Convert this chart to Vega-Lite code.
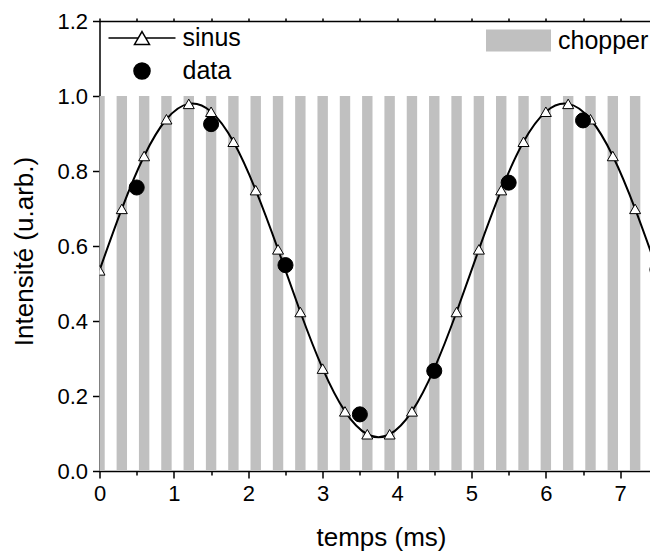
{
  "$schema": "https://vega.github.io/schema/vega-lite/v6.json",
  "width": 550.5,
  "height": 450,
  "autosize": {"type": "none"},
  "padding": {"left": 99.5, "top": 21, "right": 0, "bottom": 82},
  "config": {
    "font": "Liberation Sans",
    "view": {"stroke": null},
    "axis": {
      "grid": false,
      "domainColor": "black",
      "tickColor": "black",
      "labelColor": "black",
      "titleColor": "black",
      "domainWidth": 1.5,
      "tickWidth": 1.5,
      "labelFont": "Liberation Sans",
      "titleFont": "Liberation Sans",
      "titleFontWeight": "normal",
      "labelFlush": false,
      "labelOverlap": false
    },
    "legend": {"labelFont": "Liberation Sans", "labelColor": "black"}
  },
  "datasets": {
    "chopper": [
      {"t0": -0.07, "t1": 0.07}, {"t0": 0.23, "t1": 0.37}, {"t0": 0.53, "t1": 0.67},
      {"t0": 0.83, "t1": 0.97}, {"t0": 1.13, "t1": 1.27}, {"t0": 1.43, "t1": 1.57},
      {"t0": 1.73, "t1": 1.87}, {"t0": 2.03, "t1": 2.17}, {"t0": 2.33, "t1": 2.47},
      {"t0": 2.63, "t1": 2.77}, {"t0": 2.93, "t1": 3.07}, {"t0": 3.23, "t1": 3.37},
      {"t0": 3.53, "t1": 3.67}, {"t0": 3.83, "t1": 3.97}, {"t0": 4.13, "t1": 4.27},
      {"t0": 4.43, "t1": 4.57}, {"t0": 4.73, "t1": 4.87}, {"t0": 5.03, "t1": 5.17},
      {"t0": 5.33, "t1": 5.47}, {"t0": 5.63, "t1": 5.77}, {"t0": 5.93, "t1": 6.07},
      {"t0": 6.23, "t1": 6.37}, {"t0": 6.53, "t1": 6.67}, {"t0": 6.83, "t1": 6.97},
      {"t0": 7.13, "t1": 7.27}
    ],
    "pts": [
      {"series": "sinus", "x": 0.0, "y": 0.535},
      {"series": "sinus", "x": 0.3, "y": 0.699},
      {"series": "sinus", "x": 0.6, "y": 0.840},
      {"series": "sinus", "x": 0.9, "y": 0.938},
      {"series": "sinus", "x": 1.2, "y": 0.979},
      {"series": "sinus", "x": 1.5, "y": 0.958},
      {"series": "sinus", "x": 1.8, "y": 0.878},
      {"series": "sinus", "x": 2.1, "y": 0.749},
      {"series": "sinus", "x": 2.4, "y": 0.591},
      {"series": "sinus", "x": 2.7, "y": 0.424},
      {"series": "sinus", "x": 3.0, "y": 0.273},
      {"series": "sinus", "x": 3.3, "y": 0.159},
      {"series": "sinus", "x": 3.6, "y": 0.098},
      {"series": "sinus", "x": 3.9, "y": 0.098},
      {"series": "sinus", "x": 4.2, "y": 0.159},
      {"series": "sinus", "x": 4.5, "y": 0.273},
      {"series": "sinus", "x": 4.8, "y": 0.424},
      {"series": "sinus", "x": 5.1, "y": 0.591},
      {"series": "sinus", "x": 5.4, "y": 0.749},
      {"series": "sinus", "x": 5.7, "y": 0.878},
      {"series": "sinus", "x": 6.0, "y": 0.958},
      {"series": "sinus", "x": 6.3, "y": 0.979},
      {"series": "sinus", "x": 6.6, "y": 0.938},
      {"series": "sinus", "x": 6.9, "y": 0.840},
      {"series": "sinus", "x": 7.2, "y": 0.699},
      {"series": "sinus", "x": 7.5, "y": 0.535},
      {"series": "data", "x": 0.5, "y": 0.756},
      {"series": "data", "x": 1.5, "y": 0.925},
      {"series": "data", "x": 2.5, "y": 0.549},
      {"series": "data", "x": 3.5, "y": 0.151},
      {"series": "data", "x": 4.5, "y": 0.267},
      {"series": "data", "x": 5.5, "y": 0.769},
      {"series": "data", "x": 6.5, "y": 0.935},
      {"series": "data", "x": 7.5, "y": 0.537}
    ]
  },
  "layer": [
    {
      "data": {"name": "chopper"},
      "mark": {"type": "rect", "clip": true},
      "encoding": {
        "x": {
          "field": "t0", "type": "quantitative",
          "scale": {"domain": [0, 7.4], "nice": false, "zero": false},
          "axis": {
            "orient": "bottom",
            "title": "temps (ms)",
            "values": [0, 0.5, 1, 1.5, 2, 2.5, 3, 3.5, 4, 4.5, 5, 5.5, 6, 6.5, 7],
            "labelExpr": "datum.value % 1 === 0 ? format(datum.value, 'd') : ''",
            "tickSize": {"condition": {"test": "datum.value % 1 === 0", "value": 7}, "value": 4},
            "labelFontSize": 22,
            "labelPadding": 5,
            "titleFontSize": 26,
            "titleX": 281.5,
            "titleY": 74,
            "titleBaseline": "alphabetic"
          }
        },
        "x2": {"field": "t1"},
        "y": {
          "datum": 0, "type": "quantitative",
          "scale": {"domain": [0, 1.2], "nice": false, "zero": false},
          "axis": {
            "title": "Intensité (u.arb.)",
            "values": [0, 0.1, 0.2, 0.3, 0.4, 0.5, 0.6, 0.7, 0.8, 0.9, 1.0, 1.1, 1.2],
            "labelExpr": "round(datum.value * 10) % 2 === 0 ? format(datum.value, '.1f') : ''",
            "tickSize": {"condition": {"test": "round(datum.value * 10) % 2 === 0", "value": 7}, "value": 4},
            "labelFontSize": 22,
            "labelPadding": 5,
            "titleFontSize": 26,
            "titleX": -67,
            "titleY": 230,
            "titleAngle": 270,
            "titleAlign": "center",
            "titleBaseline": "alphabetic"
          }
        },
        "y2": {"datum": 1},
        "color": {
          "datum": "chopper", "type": "nominal",
          "scale": {"domain": ["chopper"], "range": ["#c0c0c0"]},
          "legend": {
            "title": null,
            "orient": "none",
            "legendX": 386.5,
            "legendY": -13,
            "padding": 0,
            "symbolType": "M-1,-0.338H1V0.338H-1Z",
            "symbolSize": 4225,
            "symbolStrokeWidth": 0,
            "symbolOpacity": 1,
            "labelFontSize": 25,
            "labelOffset": 7,
            "encode": {"symbols": {"update": {"shape": {"value": "M-1,-0.338H1V0.338H-1Z"}, "fill": {"value": "#c0c0c0"}, "opacity": {"value": 1}}}}
          }
        }
      }
    },
    {
      "data": {"name": "pts"},
      "transform": [{"filter": "datum.series === 'sinus'"}],
      "mark": {"type": "line", "interpolate": "natural", "color": "black", "strokeWidth": 2, "clip": true},
      "encoding": {
        "x": {
          "field": "x", "type": "quantitative",
          "axis": {
            "orient": "top",
            "title": null,
            "labels": false,
            "values": [0, 0.5, 1, 1.5, 2, 2.5, 3, 3.5, 4, 4.5, 5, 5.5, 6, 6.5, 7],
            "tickSize": 3
          }
        },
        "y": {"field": "y", "type": "quantitative"}
      }
    },
    {
      "data": {"name": "pts"},
      "transform": [{"filter": "datum.series === 'sinus'"}],
      "mark": {"type": "point", "shape": "triangle-up", "filled": true, "fill": "white", "stroke": "black", "strokeWidth": 1, "opacity": 1, "size": 121, "clip": true},
      "encoding": {
        "x": {"field": "x", "type": "quantitative", "axis": null},
        "y": {"field": "y", "type": "quantitative"}
      }
    },
    {
      "data": {"name": "pts"},
      "transform": [{"filter": "datum.series === 'data'"}],
      "mark": {"type": "point", "shape": "circle", "filled": true, "fill": "black", "stroke": "black", "strokeWidth": 1, "opacity": 1, "size": 227, "clip": true},
      "encoding": {
        "x": {"field": "x", "type": "quantitative", "axis": null},
        "y": {"field": "y", "type": "quantitative"}
      }
    },
    {
      "data": {"name": "pts"},
      "transform": [{"filter": "datum.x > 99"}],
      "mark": {"type": "point", "filled": true, "stroke": "black", "strokeWidth": 1.5, "opacity": 1},
      "encoding": {
        "x": {"field": "x", "type": "quantitative", "axis": null},
        "y": {"field": "y", "type": "quantitative"},
        "shape": {
          "field": "series", "type": "nominal",
          "scale": {
            "domain": ["sinus", "data"],
            "range": [
              "M-1,0H-0.112M0.112,0H1M0,-0.194L0.224,0.194L-0.224,0.194Z",
              "M0.24,0A0.24,0.24,0,1,1,-0.24,0A0.24,0.24,0,1,1,0.24,0Z"
            ]
          },
          "legend": {
            "title": null,
            "orient": "none",
            "legendX": 8,
            "legendY": 0.5,
            "padding": 0,
            "symbolSize": 4489,
            "symbolStrokeWidth": 1.5,
            "symbolStrokeColor": "black",
            "symbolOpacity": 1,
            "labelFontSize": 25,
            "labelOffset": 6,
            "rowPadding": 0,
            "clipHeight": 33,
            "encode": {"symbols": {"update": {"stroke": {"value": "black"}, "strokeWidth": {"value": 1.5}, "opacity": {"value": 1}}}}
          }
        },
        "fill": {
          "field": "series", "type": "nominal",
          "scale": {"domain": ["sinus", "data"], "range": ["white", "black"]},
          "legend": {
            "title": null,
            "orient": "none",
            "legendX": 8,
            "legendY": 0.5,
            "padding": 0,
            "symbolSize": 4489,
            "symbolStrokeWidth": 1.5,
            "symbolStrokeColor": "black",
            "symbolOpacity": 1,
            "labelFontSize": 25,
            "labelOffset": 6,
            "rowPadding": 0,
            "clipHeight": 33,
            "encode": {"symbols": {"update": {"stroke": {"value": "black"}, "strokeWidth": {"value": 1.5}, "opacity": {"value": 1}}}}
          }
        }
      }
    }
  ],
  "resolve": {"axis": {"x": "independent"}}
}
